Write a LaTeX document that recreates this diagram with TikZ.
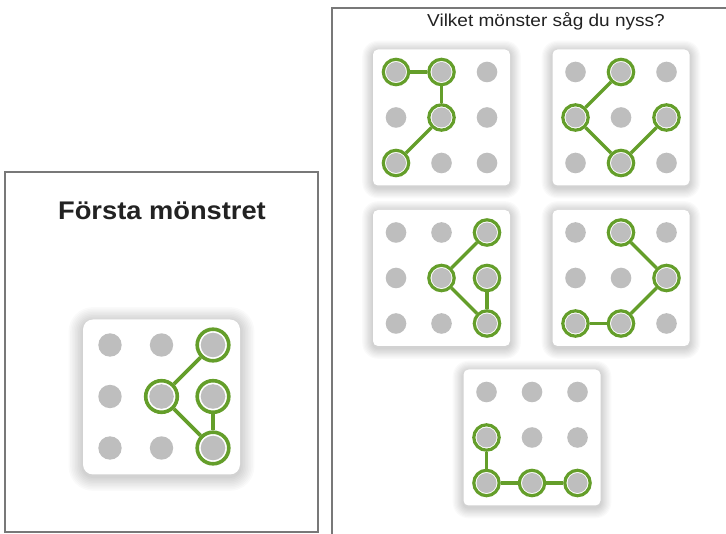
\documentclass[tikz,border=0pt]{standalone}
\usepackage{fontspec}
\setmainfont{Liberation Sans}
\definecolor{pgreen}{RGB}{100,158,42}
\definecolor{dotgray}{RGB}{190,190,190}
\definecolor{framegray}{RGB}{120,120,120}
\definecolor{textdark}{RGB}{34,34,34}
\newcommand\cardbox[6]{% cx cy w h radius spreadstep
  \foreach \i in {1,...,9}{
    \fill[black,opacity=0.019,rounded corners={#5+\i*#6}]
      ({#1-#3/2-\i*#6},{#2-#4/2-\i*#6+2}) rectangle ({#1+#3/2+\i*#6},{#2+#4/2+\i*#6+2});
  }
  \fill[white,rounded corners=#5] ({#1-#3/2},{#2-#4/2}) rectangle ({#1+#3/2},{#2+#4/2});
}
\newcommand\dotgrid[5]{% name cx cy spacing dotstyle
  \foreach \r in {1,2,3}{\foreach \c in {1,2,3}{
    \node[#5] (#1-\r-\c) at ({#2+(\c-2)*#4},{#3+(\r-2)*#4}) {};
  }}}
\newcommand\selnodes[3]{\foreach \p in {#3}{\node[#2] (#1-\p) at (#1-\p) {};}}
\newcommand\linknodes[3]{\foreach \a/\b in {#3}{\draw[#2] (#1-\a) -- (#1-\b);}}
\begin{document}
\begin{tikzpicture}[x=1pt,y=-1pt,
  frame/.style={draw=framegray,line width=1.3pt},
  dotR/.style={circle,fill=dotgray,minimum size=20.6pt,inner sep=0pt},
  selR/.style={circle,draw=pgreen,line width=3.2pt,fill=white,minimum size=25.4pt,inner sep=0pt,
    path picture={\fill[dotgray] (path picture bounding box.center) circle (10pt);}},
  linkR/.style={draw=pgreen,line width=3.3pt},
  dotL/.style={circle,fill=dotgray,minimum size=23.4pt,inner sep=0pt},
  selL/.style={circle,draw=pgreen,line width=3.6pt,fill=white,minimum size=31.6pt,inner sep=0pt,
    path picture={\fill[dotgray] (path picture bounding box.center) circle (12.3pt);}},
  linkL/.style={draw=pgreen,line width=3.7pt}]
\useasboundingbox (0,0) rectangle (726,534);
\clip (0,0) rectangle (726,534);
\fill[white] (0,0) rectangle (726,534);
% frames
\draw[frame] (5,172) rectangle (318,532);
\draw[frame] (332,8) rectangle (745,560);
% texts
\node[font=\bfseries\fontsize{25.5}{30}\selectfont,anchor=base,text=textdark,inner sep=0pt] (title) at (162,220) {\scalebox{1.07}[1]{Första mönstret}};
\node[font=\fontsize{17.3}{20}\selectfont,anchor=base,text=textdark,inner sep=0pt] (question) at (546,26.5) {\scalebox{1.1}[1]{Vilket mönster såg du nyss?}};
% left card
\cardbox{161.5}{397}{157}{155}{10}{1.6}
\dotgrid{L}{161.5}{396.5}{51.5}{dotL}
\selnodes{L}{selL}{1-3,2-2,2-3,3-3}
\linknodes{L}{linkL}{1-3/2-2,2-2/3-3,3-3/2-3}
% card A
\cardbox{441.5}{117.5}{137}{136}{5}{1.2}
\dotgrid{A}{441.5}{117.5}{45.5}{dotR}
\selnodes{A}{selR}{1-1,1-2,2-2,3-1}
\linknodes{A}{linkR}{1-1/1-2,1-2/2-2,2-2/3-1}
% card B
\cardbox{621}{117.5}{137}{136}{5}{1.2}
\dotgrid{B}{621}{117.5}{45.5}{dotR}
\selnodes{B}{selR}{1-2,2-1,3-2,2-3}
\linknodes{B}{linkR}{1-2/2-1,2-1/3-2,3-2/2-3}
% card C
\cardbox{441.5}{278}{137}{136}{5}{1.2}
\dotgrid{C}{441.5}{278}{45.5}{dotR}
\selnodes{C}{selR}{1-3,2-2,2-3,3-3}
\linknodes{C}{linkR}{1-3/2-2,2-2/3-3,2-3/3-3}
% card D
\cardbox{621}{278}{137}{136}{5}{1.2}
\dotgrid{D}{621}{278}{45.5}{dotR}
\selnodes{D}{selR}{1-2,2-3,3-2,3-1}
\linknodes{D}{linkR}{1-2/2-3,2-3/3-2,3-2/3-1}
% card E
\cardbox{532}{437.5}{137}{136}{5}{1.2}
\dotgrid{E}{532}{437.5}{45.5}{dotR}
\selnodes{E}{selR}{2-1,3-1,3-2,3-3}
\linknodes{E}{linkR}{2-1/3-1,3-1/3-2,3-2/3-3}
\end{tikzpicture}
\end{document}
